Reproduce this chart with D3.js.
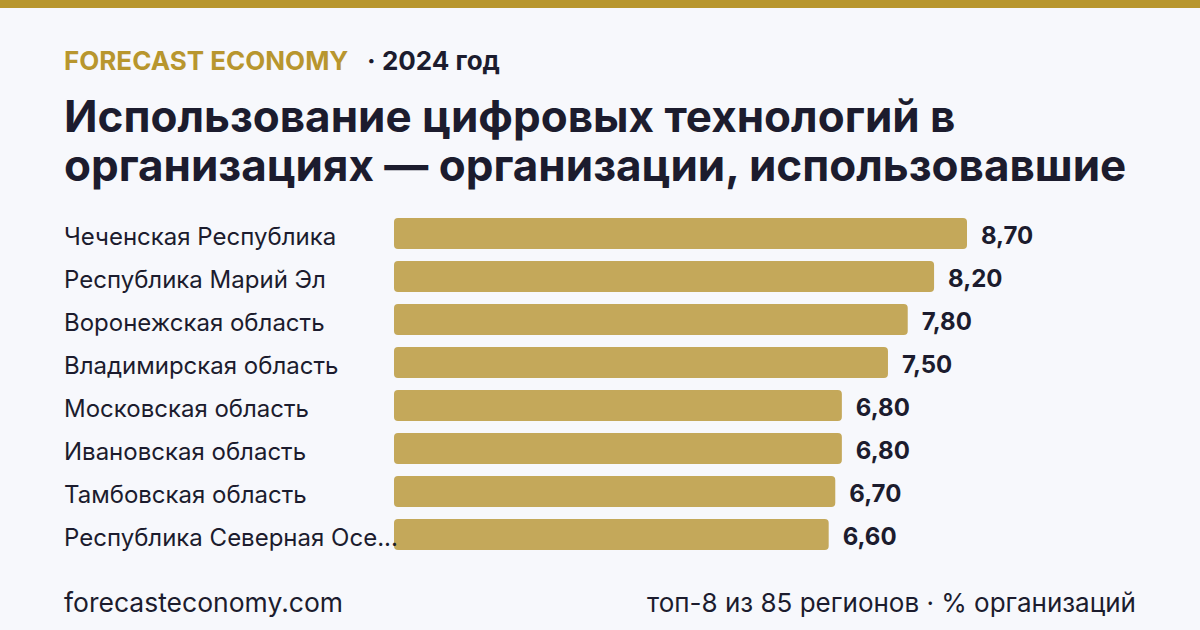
<!DOCTYPE html>
<html>
<head>
<meta charset="utf-8">
<script src="https://cdn.jsdelivr.net/npm/d3@7"></script>
<style>
  html, body { margin: 0; padding: 0; background: #f7f8fc; }
  svg { display: block; }
</style>
</head>
<body>
<div id="chart"></div>
<script>
// data
var regions = [
  "Чеченская Республика",
  "Республика Марий Эл",
  "Воронежская область",
  "Владимирская область",
  "Московская область",
  "Ивановская область",
  "Тамбовская область",
  "Республика Северная Осетия — Алания"
];
var values = [8.70, 8.20, 7.80, 7.50, 6.80, 6.80, 6.70, 6.60];
var brand = "FORECAST ECONOMY";
var yearLabel = "· 2024 год";
var titleLines = [
  "Использование цифровых технологий в",
  "организациях — организации, использовавшие"
];
var footLeft = "forecasteconomy.com";
var footRight = "топ-8 из 85 регионов · % организаций";

var W = 1200, H = 630;
var gold = "#b8962e", barColor = "#c4a85a", ink = "#1c1c2e";
var font = "Inter, 'Noto Sans', sans-serif";

var svg = d3.select("#chart").append("svg")
    .attr("width", W)
    .attr("height", H);

svg.append("rect").attr("width", W).attr("height", H).attr("fill", "#f7f8fc");
// top stripe
svg.append("rect").attr("width", W).attr("height", 8).attr("fill", gold);

// header
var head = svg.append("text")
    .attr("x", 64).attr("y", 70)
    .style("font-family", font)
    .style("font-weight", 700)
    .style("font-size", "26px");
head.append("tspan").attr("fill", gold).text(brand);
head.append("tspan").attr("fill", ink).attr("dx", 20).text(yearLabel);

// title
svg.selectAll("text.title")
  .data(titleLines)
  .enter().append("text")
    .attr("class", "title")
    .attr("x", 64)
    .attr("y", function(d, i) { return 132 + i * 49; })
    .attr("fill", ink)
    .style("font-family", font)
    .style("font-weight", 700)
    .style("font-size", "44px")
    .text(function(d) { return d; });

// scales
var x = d3.scaleLinear()
    .domain([0, d3.max(values)])
    .range([394, 967]);

var y = d3.scaleBand()
    .domain(regions)
    .range([212, 212 + 43 * regions.length])
    .paddingInner(12 / 43)
    .paddingOuter(6 / 43);

var rows = svg.selectAll("g.row")
  .data(regions)
  .enter().append("g")
    .attr("class", "row");

rows.append("rect")
    .attr("x", x(0))
    .attr("y", function(d) { return y(d); })
    .attr("width", function(d, i) { return x(values[i]) - x(0); })
    .attr("height", y.bandwidth())
    .attr("rx", 4)
    .attr("fill", barColor);

// region names, truncated to fit before the bars
var labels = rows.append("text")
    .attr("x", 64)
    .attr("y", function(d) { return y(d) + y.bandwidth() / 2; })
    .attr("dy", "0.47em")
    .attr("fill", ink)
    .style("font-family", font)
    .style("font-size", "24px")
    .text(function(d) { return d; });

labels.each(function(d) {
  var t = d3.select(this);
  var maxW = x(0) - 64 + 6;
  if (this.getComputedTextLength() > maxW) {
    var s = d;
    while (s.length > 1) {
      s = s.slice(0, -1);
      t.text(s.trim() + "...");
      if (this.getComputedTextLength() <= maxW) break;
    }
  }
});

var fmt = function(v) { return d3.format(".2f")(v).replace(".", ","); };

rows.append("text")
    .attr("x", function(d, i) { return x(values[i]) + 14; })
    .attr("y", function(d) { return y(d) + y.bandwidth() / 2; })
    .attr("dy", "0.43em")
    .attr("fill", ink)
    .style("font-family", font)
    .style("font-weight", 700)
    .style("font-size", "24px")
    .text(function(d, i) { return fmt(values[i]); });

// footer
svg.append("text")
    .attr("x", 64).attr("y", 612)
    .attr("fill", ink)
    .style("font-family", font)
    .style("font-size", "26.5px")
    .text(footLeft);

svg.append("text")
    .attr("x", 1136).attr("y", 612)
    .attr("text-anchor", "end")
    .attr("fill", ink)
    .style("font-family", font)
    .style("font-size", "26px")
    .text(footRight);
</script>
</body>
</html>
